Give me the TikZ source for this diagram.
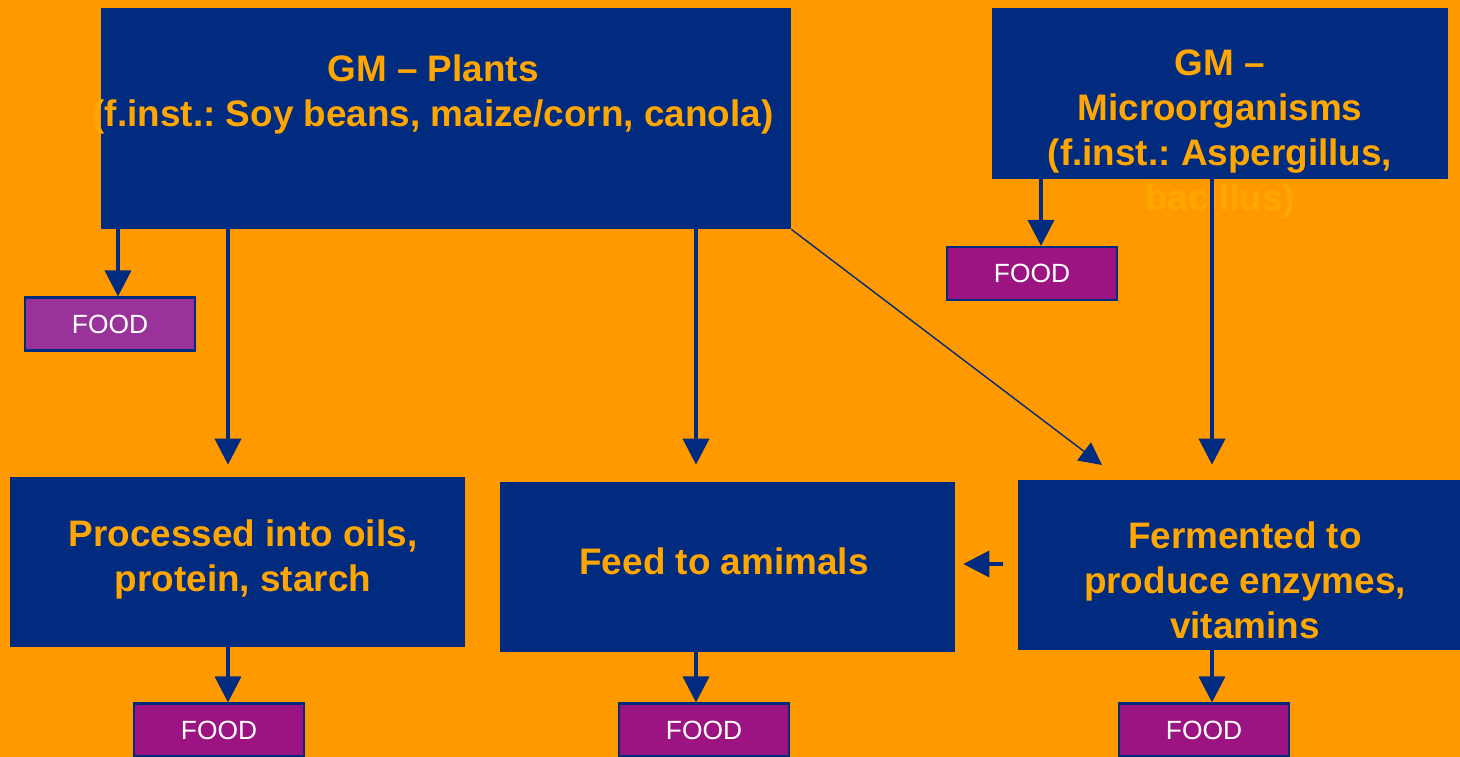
\documentclass[tikz,border=0pt]{standalone}
\usepackage{fontspec}
\setmainfont{Liberation Sans}
\usetikzlibrary{arrows.meta}
\definecolor{bgorange}{RGB}{255,153,0}
\definecolor{boxblue}{RGB}{0,43,127}
\definecolor{txtorange}{RGB}{255,166,0}
\definecolor{foodpurple}{RGB}{156,20,130}
\definecolor{foodlilac}{RGB}{153,51,153}
\frenchspacing

\begin{document}
\begin{tikzpicture}%
	[x=0.02cm, y=-0.02cm,
	box/.style={fill=boxblue, inner sep=0pt, minimum width=9.1cm, minimum height=3.4cm},
	food/.style={fill=foodpurple, draw=boxblue, line width=1.2pt, inner sep=0pt,
		minimum width=3.4cm, minimum height=1.06cm, text=white,
		font=\fontsize{15}{18}\selectfont},
	title/.style={text=txtorange, align=center, font=\bfseries\fontsize{21}{25.5}\selectfont},
	arr/.style={draw=boxblue, line width=2pt, -{Triangle[width=0.52cm,length=0.52cm]}},
	slim/.style={draw=boxblue, line width=0.8pt, -{Triangle[width=0.45cm,length=0.45cm]}}]
%
%% Background
%%
\useasboundingbox[fill=bgorange] (0,0) rectangle (1460,757);
%%
%% The boxes
%%
\node[box, minimum width=13.8cm, minimum height=4.42cm] (plants) at (446,118.5) {};
\node[box, minimum width=9.12cm, minimum height=3.42cm] (micro) at (1220,93.5) {};
\node[box] (proc) at (237.5,562) {};
\node[box] (feed) at (727.5,567) {};
\node[box, minimum width=8.88cm] (ferm) at (1240,565) {};
%%
%% The texts
%%
\node[title] (plantstxt) at (433,94.5) {GM – Plants\\(f.inst.: Soy beans, maize/corn, canola)};
\node[title] (microtxt) at (1220,134) {GM –\\Microorganisms\\(f.inst.: Aspergillus,\\bacillus)};
\node[title] (proctxt) at (243,559.5) {Processed into oils,\\protein, starch};
\node[title] (feedtxt) at (724,561) {Feed to amimals};
\node[title] (fermtxt) at (1245,580.5) {Fermented to\\produce enzymes,\\vitamins};
%%
%% The FOOD boxes
%%
\node[food, fill=foodlilac] (food1) at (110,324) {FOOD};
\node[food] (food2) at (1032,273.5) {FOOD};
\node[food] (food3) at (219,730) {FOOD};
\node[food] (food4) at (704,730) {FOOD};
\node[food] (food5) at (1204,730) {FOOD};
%%
%% Arrows
%%
\coordinate (diagend) at (1102,465);
\draw[arr] (plants.south -| 118,0) -- (food1.north -| 118,0);
\draw[arr, shorten >=0.24cm] (plants.south -| 228,0) -- (proc.north -| 228,0);
\draw[arr, shorten >=0.34cm] (plants.south -| 696,0) -- (feed.north -| 696,0);
\draw[slim] (plants.south east) -- (diagend);
\draw[arr] (micro.south -| 1041,0) -- (food2.north -| 1041,0);
\draw[arr, shorten >=0.3cm] (micro.south -| 1212,0) -- (ferm.north -| 1212,0);
\draw[arr, shorten <=0.3cm, shorten >=0.16cm] (ferm.west |- 0,564) -- (feed.east |- 0,564);
\draw[arr] (proc.south -| 228,0) -- (food3.north -| 228,0);
\draw[arr] (feed.south -| 696,0) -- (food4.north -| 696,0);
\draw[arr] (ferm.south -| 1212,0) -- (food5.north -| 1212,0);
%%
\end{tikzpicture}
\end{document}
